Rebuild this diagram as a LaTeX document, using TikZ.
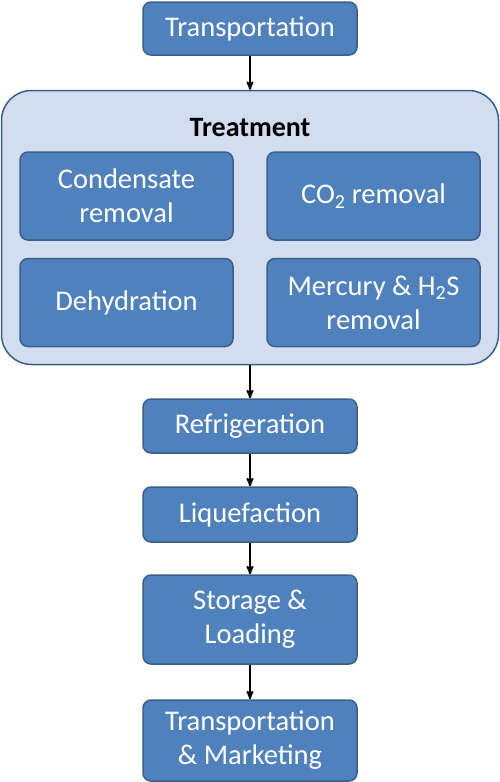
\documentclass[tikz,border=0pt]{standalone}
\usepackage{fontspec}
\setmainfont{Carlito}
\usetikzlibrary{positioning}
\usetikzlibrary{arrows}
\definecolor{boxfill}{HTML}{4F81BD}
\definecolor{boxline}{HTML}{3A5F8B}
\definecolor{grpfill}{HTML}{D2DEEF}
\tikzset{blk/.style={rectangle,rounded corners=8pt,draw=boxline,fill=boxfill,line width=1.5pt,
  text=white,align=center,inner sep=0pt,font=\fontsize{28.5}{34}\selectfont}}
\tikzset{stage/.style={blk,minimum width=214pt}}
\tikzset{sub/.style={blk,minimum width=213pt,minimum height=88pt}}
\tikzset{>=stealth'}

\begin{document}
\begin{tikzpicture}[x=1pt,y=-1pt]
\useasboundingbox (0,0) rectangle (500,782);

\node[stage,minimum height=53pt] at (250,28.5) (tr) {Transportation};
\node[rectangle,rounded corners=30pt,draw=boxline,fill=grpfill,line width=1.5pt,
  minimum width=497pt,minimum height=274pt,inner sep=0pt] at (250,227.5) (treat) {};
\node[font=\fontsize{28}{34}\selectfont\bfseries] at (250,128) (tlabel) {Treatment};

\node[sub] at (126.5,196) (cond) {Condensate\\removal};
\node[sub] at (373.5,196) (co2) {CO\textsubscript{2} removal};
\node[sub] at (126.5,302.5) (dehy) {Dehydration};
\node[sub] at (373.5,302.5) (merc) {Mercury \& H\textsubscript{2}S\\removal};

\node[stage,minimum height=54pt] at (250,426) (refr) {Refrigeration};
\node[stage,minimum height=55pt] at (250,514.5) (liq) {Liquefaction};
\node[stage,minimum height=89pt] at (250,619.5) (stor) {Storage \&\\Loading};
\node[stage,minimum height=81pt] at (250,740.5) (mkt) {Transportation\\\& Marketing};

\draw[->,line width=1.8pt] (tr) -- (treat);
\draw[->,line width=1.8pt] (treat) -- (refr);
\draw[->,line width=1.8pt] (refr) -- (liq);
\draw[->,line width=1.8pt] (liq) -- (stor);
\draw[->,line width=1.8pt] (stor) -- (mkt);

\end{tikzpicture}
\end{document}
